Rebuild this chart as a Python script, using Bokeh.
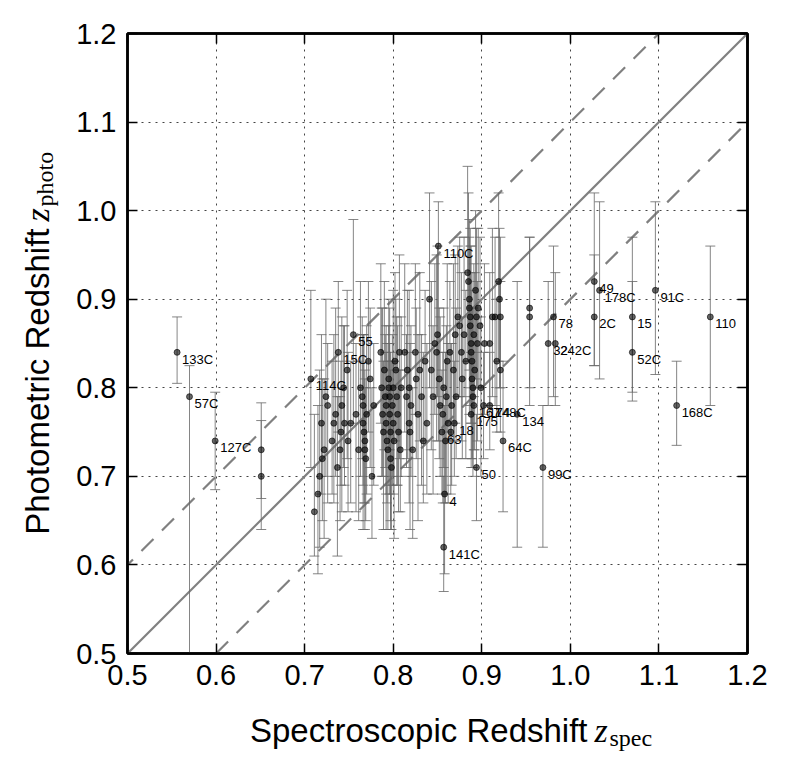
import numpy as np
from bokeh.plotting import figure
from bokeh.models import (ColumnDataSource, LinearAxis, FixedTicker,
                          PrintfTickFormatter, Slope, CustomJSTickFormatter)
from bokeh.core.properties import value
from bokeh.embed import file_html
from bokeh.resources import INLINE

# ---------------- data ----------------
# labelled galaxies
lab_zspec = [0.556, 0.570, 0.599, 0.651, 0.651, 0.707, 0.738, 0.755, 0.851, 0.855,
             0.869, 0.888, 0.891, 0.902, 0.909, 0.940, 0.924, 0.969, 0.894, 0.858,
             0.857, 0.975, 0.983, 0.981, 1.027, 1.033, 1.027, 1.070, 1.070, 1.096,
             1.120, 1.158]
lab_zphot = [0.84, 0.79, 0.74, 0.73, 0.70, 0.81, 0.84, 0.86, 0.96, 0.75,
             0.76, 0.77, 0.78, 0.78, 0.78, 0.77, 0.74, 0.71, 0.71, 0.68,
             0.62, 0.85, 0.85, 0.88, 0.92, 0.91, 0.88, 0.88, 0.84, 0.91,
             0.78, 0.88]
lab_err_lo = [0.035, 0.33, 0.055, 0.055, 0.06, 0.10, 0.09, 0.10, 0.22, 0.07,
              0.06, 0.06, 0.05, 0.06, 0.05, 0.15, 0.08, 0.09, 0.06, 0.09,
              0.05, 0.07, 0.07, 0.09, 0.095, 0.10, 0.055, 0.095, 0.045, 0.095,
              0.045, 0.10]
lab_err_hi = [0.04, 0.035, 0.055, 0.053, 0.063, 0.10, 0.08, 0.13, 0.05, 0.07,
              0.07, 0.07, 0.06, 0.06, 0.06, 0.15, 0.09, 0.07, 0.06, 0.10,
              0.08, 0.07, 0.08, 0.08, 0.10, 0.10, 0.07, 0.09, 0.08, 0.10,
              0.05, 0.08]
lab_names = ["133C", "57C", "127C", "", "", "114C", "15C", "55", "110C", "63",
             "18", "175", "167", "174", "148C", "134", "64C", "99C", "50", "4",
             "141C", "32", "242C", "78", "49", "178C", "2C", "15", "52C", "91C",
             "168C", "110"]

# unlabelled galaxies (dense cluster)
cl_zspec = [0.711, 0.715, 0.717, 0.720, 0.722, 0.719, 0.724, 0.726, 0.731, 0.733,
            0.735, 0.737, 0.740, 0.742, 0.744, 0.745, 0.748, 0.741, 0.749, 0.752,
            0.758, 0.761, 0.763, 0.765, 0.766, 0.766, 0.767, 0.768, 0.768, 0.769,
            0.770, 0.772, 0.774, 0.776, 0.778, 0.786, 0.787, 0.788, 0.789, 0.790,
            0.791, 0.792, 0.792, 0.793, 0.794, 0.795, 0.795, 0.796, 0.796, 0.797,
            0.797, 0.798, 0.799, 0.800, 0.800, 0.801, 0.802, 0.803, 0.804, 0.805,
            0.806, 0.807, 0.808, 0.809, 0.813, 0.815, 0.816, 0.818, 0.818, 0.819,
            0.820, 0.822, 0.825, 0.826, 0.828, 0.830, 0.832, 0.834, 0.836, 0.838,
            0.841, 0.843, 0.845, 0.847, 0.849, 0.850, 0.852, 0.853, 0.856, 0.857,
            0.859, 0.860, 0.861, 0.862, 0.864, 0.865, 0.866, 0.868, 0.870, 0.871,
            0.873, 0.875, 0.877, 0.878, 0.880, 0.882, 0.884, 0.885, 0.886, 0.886,
            0.887, 0.887, 0.888, 0.888, 0.889, 0.889, 0.890, 0.890, 0.891, 0.892,
            0.893, 0.894, 0.895, 0.896, 0.898, 0.899, 0.903, 0.909, 0.912, 0.915,
            0.917, 0.919, 0.920, 0.921, 0.921, 0.954, 0.954]
cl_zphot = [0.66, 0.68, 0.70, 0.72, 0.73, 0.76, 0.79, 0.78, 0.74, 0.76,
            0.77, 0.71, 0.73, 0.78, 0.80, 0.76, 0.82, 0.75, 0.74, 0.76,
            0.77, 0.73, 0.80, 0.79, 0.78, 0.76, 0.75, 0.74, 0.73, 0.72,
            0.77, 0.83, 0.81, 0.70, 0.78, 0.84, 0.80, 0.77, 0.75, 0.82,
            0.79, 0.78, 0.76, 0.74, 0.73, 0.81, 0.80, 0.79, 0.77, 0.75,
            0.72, 0.71, 0.78, 0.80, 0.76, 0.74, 0.83, 0.82, 0.79, 0.77,
            0.75, 0.84, 0.73, 0.80, 0.84, 0.79, 0.82, 0.80, 0.76, 0.75,
            0.78, 0.73, 0.84, 0.81, 0.77, 0.82, 0.79, 0.74, 0.83, 0.76,
            0.90, 0.82, 0.79, 0.85, 0.84, 0.86, 0.81, 0.78, 0.77, 0.80,
            0.74, 0.79, 0.83, 0.76, 0.84, 0.75, 0.78, 0.82, 0.86, 0.79,
            0.88, 0.87, 0.84, 0.81, 0.86, 0.83, 0.93, 0.92, 0.90, 0.89,
            0.88, 0.87, 0.85, 0.84, 0.83, 0.81, 0.80, 0.79, 0.86, 0.82,
            0.91, 0.88, 0.85, 0.89, 0.87, 0.80, 0.85, 0.85, 0.88, 0.88,
            0.83, 0.92, 0.90, 0.88, 0.82, 0.89, 0.88]
cl_err_lo = [0.05, 0.09, 0.08, 0.07, 0.10, 0.08, 0.09, 0.11, 0.06, 0.09,
             0.07, 0.10, 0.08, 0.12, 0.09, 0.07, 0.10, 0.06, 0.08, 0.09,
             0.11, 0.08, 0.10, 0.07, 0.09, 0.12, 0.08, 0.10, 0.06, 0.07,
             0.09, 0.08, 0.10, 0.07, 0.09, 0.08, 0.10, 0.07, 0.11, 0.09,
             0.08, 0.10, 0.12, 0.07, 0.09, 0.08, 0.11, 0.06, 0.09, 0.10,
             0.08, 0.07, 0.09, 0.10, 0.08, 0.11, 0.09, 0.07, 0.10, 0.08,
             0.09, 0.12, 0.07, 0.10, 0.09, 0.08, 0.10, 0.07, 0.09, 0.11,
             0.08, 0.10, 0.07, 0.09, 0.12, 0.08, 0.10, 0.07, 0.09, 0.08,
             0.10, 0.09, 0.11, 0.08, 0.10, 0.07, 0.09, 0.08, 0.10, 0.09,
             0.07, 0.11, 0.08, 0.09, 0.10, 0.07, 0.09, 0.08, 0.10, 0.07,
             0.09, 0.08, 0.10, 0.09, 0.07, 0.11, 0.10, 0.09, 0.08, 0.12,
             0.10, 0.07, 0.09, 0.08, 0.11, 0.09, 0.10, 0.08, 0.07, 0.09,
             0.10, 0.08, 0.11, 0.09, 0.07, 0.10, 0.08, 0.07, 0.09, 0.10,
             0.08, 0.09, 0.10, 0.08, 0.07, 0.09, 0.10]
cl_err_hi = [0.11, 0.10, 0.12, 0.09, 0.08, 0.10, 0.11, 0.07, 0.09, 0.10,
             0.12, 0.08, 0.06, 0.10, 0.07, 0.11, 0.09, 0.08, 0.10, 0.07,
             0.08, 0.10, 0.12, 0.09, 0.08, 0.10, 0.11, 0.07, 0.09, 0.08,
             0.10, 0.09, 0.08, 0.10, 0.07, 0.10, 0.09, 0.12, 0.08, 0.10,
             0.07, 0.09, 0.08, 0.11, 0.10, 0.09, 0.07, 0.10, 0.08, 0.09,
             0.10, 0.12, 0.08, 0.11, 0.07, 0.09, 0.10, 0.08, 0.09, 0.10,
             0.07, 0.11, 0.09, 0.08, 0.10, 0.07, 0.09, 0.11, 0.08, 0.10,
             0.09, 0.07, 0.10, 0.08, 0.09, 0.11, 0.07, 0.10, 0.08, 0.09,
             0.12, 0.10, 0.08, 0.09, 0.11, 0.10, 0.08, 0.10, 0.07, 0.09,
             0.10, 0.08, 0.11, 0.09, 0.08, 0.10, 0.07, 0.12, 0.09, 0.10,
             0.08, 0.10, 0.09, 0.07, 0.11, 0.08, 0.12, 0.10, 0.09, 0.08,
             0.10, 0.09, 0.11, 0.07, 0.10, 0.08, 0.09, 0.10, 0.08, 0.11,
             0.09, 0.10, 0.07, 0.09, 0.10, 0.08, 0.09, 0.08, 0.10, 0.09,
             0.07, 0.10, 0.08, 0.09, 0.10, 0.08, 0.09]

ticks = [0.5, 0.6, 0.7, 0.8, 0.9, 1.0, 1.1, 1.2]

# axis title pieces
xt_main, xt_var, xt_sub = "Spectroscopic Redshift", "z", "spec"
yt_main, yt_var, yt_sub = "Photometric Redshift", "z", "photo"

# ---------------- build ----------------
zs = np.array(lab_zspec + cl_zspec)
zp = np.array(lab_zphot + cl_zphot)
lo = np.array(lab_err_lo + cl_err_lo)
hi = np.array(lab_err_hi + cl_err_hi)
src = ColumnDataSource(dict(x=zs, y=zp, lower=zp - lo, upper=zp + hi))
lab_src = ColumnDataSource(dict(x=lab_zspec, y=lab_zphot, t=lab_names))

SANS = "Liberation Sans"
SERIF = "Liberation Serif"
FRAME = 620
X0, X1 = 0.5, 1.2
PPU = FRAME / (X1 - X0)  # pixels per unit


def dpx(px):
    """frame pixel offset -> data coordinate"""
    return X0 + px / PPU


p = figure(frame_width=FRAME, frame_height=FRAME, x_range=(X0, X1), y_range=(X0, X1),
           output_backend="svg", toolbar_location=None,
           min_border_left=127, min_border_right=30,
           min_border_top=33, min_border_bottom=112)
p.background_fill_color = "white"
p.border_fill_color = "white"
p.outline_line_color = "black"
p.outline_line_width = 2.5

for ax in (p.xaxis[0], p.yaxis[0]):
    ax.ticker = FixedTicker(ticks=ticks)
    ax.formatter = PrintfTickFormatter(format="%.1f")
    ax.major_label_text_font = SANS
    ax.major_label_text_font_size = "29px"
    ax.major_label_text_color = "black"
    ax.major_label_standoff = 11
    ax.major_tick_in = 10
    ax.major_tick_out = 0
    ax.minor_tick_in = 0
    ax.minor_tick_out = 0
    ax.major_tick_line_width = 1.5
    ax.axis_line_width = 2.5
    ax.axis_line_color = "black"

for side in ("above", "right"):
    ax2 = LinearAxis(ticker=FixedTicker(ticks=ticks),
                     formatter=CustomJSTickFormatter(code="return ''"),
                     major_label_standoff=0,
                     major_tick_in=10, major_tick_out=0, minor_tick_in=0,
                     minor_tick_out=0, major_tick_line_width=1.5,
                     axis_line_width=2.5)
    p.add_layout(ax2, side)

for g in (p.xgrid[0], p.ygrid[0]):
    g.ticker = FixedTicker(ticks=ticks)
    g.grid_line_color = "#444444"
    g.grid_line_dash = "2 5"
    g.grid_line_width = 1

# reference lines
p.add_layout(Slope(gradient=1, y_intercept=0, line_color="#808080",
                   line_width=2.2, level="underlay"))
for off in (0.1, -0.1):
    p.add_layout(Slope(gradient=1, y_intercept=off, line_color="#808080",
                       line_width=2.2, line_dash="17 12", level="underlay"))

# error bars
p.segment(x0="x", y0="lower", x1="x", y1="upper", source=src,
          line_color="#666666", line_width=1, line_alpha=0.8)
p.scatter(x="x", y="lower", source=src, marker="dash", size=10,
          line_color="#666666", line_width=1, line_alpha=0.8)
p.scatter(x="x", y="upper", source=src, marker="dash", size=10,
          line_color="#666666", line_width=1, line_alpha=0.8)
# points
p.scatter(x="x", y="y", source=src, size=6, fill_color="black",
          line_color="black", fill_alpha=0.6, line_alpha=0.6)
# labels
p.text(x="x", y="y", text="t", source=lab_src, x_offset=5, y_offset=7,
       text_font=value(SANS), text_font_size="13px", text_color="black",
       text_baseline="middle", text_align="left")


def title_piece(xpx, ypx, txt, font, size, align, angle=0.0, italic=False):
    s = ColumnDataSource(dict(x=[dpx(xpx)], y=[dpx(ypx)], t=[txt]))
    p.text(x="x", y="y", text="t", source=s, angle=angle,
           text_font=value(font), text_font_size=size,
           text_font_style="italic" if italic else "normal",
           text_align=align, text_baseline="alphabetic", text_color="black",
           level="overlay")


# x-axis title
title_piece(460, -77, xt_main, SANS, "33px", "right")
title_piece(467, -77, xt_var, SERIF, "34px", "left", italic=True)
title_piece(482, -84, xt_sub, SERIF, "24px", "left")
# y-axis title
title_piece(-90, 425, yt_main, SANS, "33px", "right", angle=np.pi / 2)
title_piece(-90, 432, yt_var, SERIF, "34px", "left", angle=np.pi / 2, italic=True)
title_piece(-83, 447, yt_sub, SERIF, "24px", "left", angle=np.pi / 2)

open("out.html", "w").write(file_html(p, INLINE))
